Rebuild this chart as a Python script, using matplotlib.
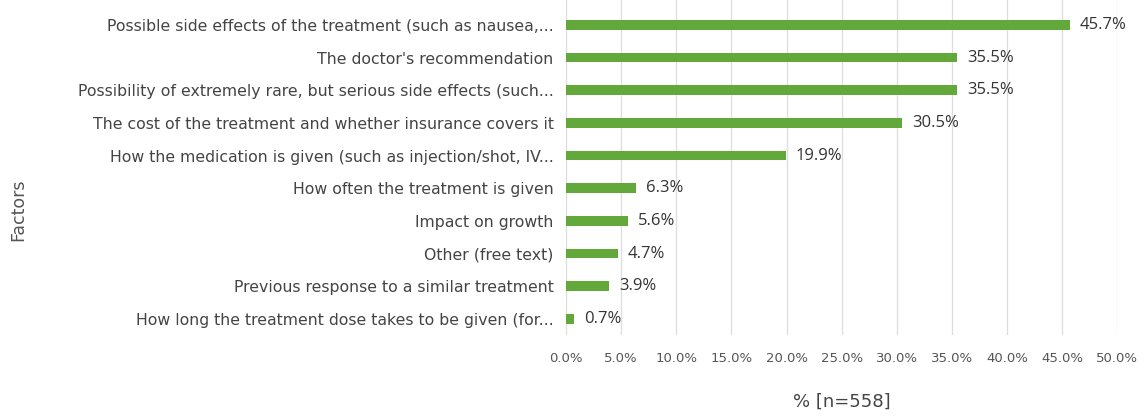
import matplotlib.pyplot as plt

# factors, in the order they are listed (top to bottom)
factors = [
    "Possible side effects of the treatment (such as nausea,...",
    "The doctor's recommendation",
    "Possibility of extremely rare, but serious side effects (such...",
    "The cost of the treatment and whether insurance covers it",
    "How the medication is given (such as injection/shot, IV...",
    "How often the treatment is given",
    "Impact on growth",
    "Other (free text)",
    "Previous response to a similar treatment",
    "How long the treatment dose takes to be given (for...",
]
percents = [45.7, 35.5, 35.5, 30.5, 19.9, 6.3, 5.6, 4.7, 3.9, 0.7]
xticks = [0, 5, 10, 15, 20, 25, 30, 35, 40, 45, 50]

fig = plt.figure(figsize=(11.46, 4.19), dpi=100)
ax = fig.add_axes([0.494, 0.20, 0.481, 0.80])

ypos = list(range(len(factors)))
ax.barh(ypos, percents, height=0.29, color='#62a83a', zorder=3)

for y, v in zip(ypos, percents):
    ax.text(v + 0.9, y, f'{v:.1f}%', va='center', ha='left', fontsize=12,
            family='Open Sans', color='#333333', clip_on=False)

ax.set_xlim(0, 50)
ax.set_ylim(9.5, -0.76)
ax.set_yticks(ypos)
ax.set_yticklabels(factors, fontsize=11.3, color='#444444')
ax.set_xticks(xticks)
ax.set_xticklabels([f'{t:.1f}%' for t in xticks], fontsize=9.5,
                   family='Liberation Sans Narrow', color='#555555')
ax.tick_params(axis='y', length=0, pad=9)
ax.tick_params(axis='x', length=0, pad=12)
ax.grid(axis='x', color='#dddddd', linewidth=0.9, zorder=0)
for s in ax.spines.values():
    s.set_visible(False)

ax.set_xlabel('% [n=558]', fontsize=13, color='#444444', labelpad=20)
fig.text(0.016, 0.50, 'Factors', rotation=90, fontsize=12.5, color='#555555',
         va='center', ha='center')

plt.savefig('out.png', dpi=100)
